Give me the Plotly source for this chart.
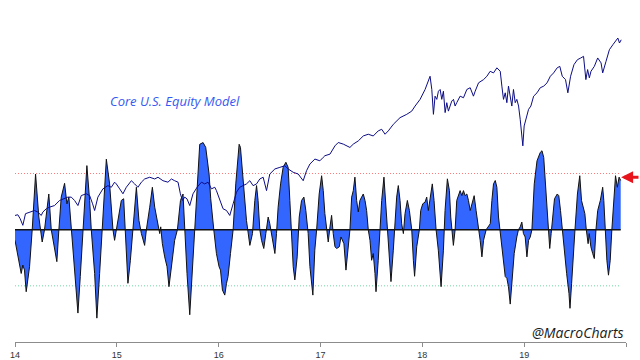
import plotly.graph_objects as go

# ---------------- data ----------------
osc_year = [
    2014.000, 2014.044, 2014.061, 2014.077, 2014.093, 2014.110, 2014.143, 2014.169, 2014.202, 2014.234,
    2014.267, 2014.290, 2014.332, 2014.356, 2014.388, 2014.411, 2014.431, 2014.454, 2014.487, 2014.510,
    2014.529, 2014.553, 2014.585, 2014.618, 2014.641, 2014.667, 2014.706, 2014.733, 2014.749, 2014.782,
    2014.804, 2014.831, 2014.857, 2014.897, 2014.929, 2014.962, 2014.978, 2015.011, 2015.044, 2015.067,
    2015.087, 2015.109, 2015.133, 2015.158, 2015.192, 2015.217, 2015.241, 2015.273, 2015.290, 2015.323,
    2015.349, 2015.372, 2015.404, 2015.421, 2015.431, 2015.447, 2015.470, 2015.493, 2015.512, 2015.536,
    2015.568, 2015.595, 2015.625, 2015.650, 2015.667, 2015.689, 2015.716, 2015.742, 2015.765, 2015.788,
    2015.814, 2015.847, 2015.873, 2015.906, 2015.922, 2015.952, 2015.978, 2016.004, 2016.018, 2016.037,
    2016.060, 2016.077, 2016.092, 2016.116, 2016.142, 2016.168, 2016.201, 2016.214, 2016.240, 2016.273,
    2016.306, 2016.332, 2016.355, 2016.372, 2016.387, 2016.404, 2016.421, 2016.443, 2016.463, 2016.486,
    2016.502, 2016.519, 2016.535, 2016.552, 2016.568, 2016.584, 2016.608, 2016.633, 2016.660, 2016.682,
    2016.699, 2016.716, 2016.732, 2016.748, 2016.771, 2016.791, 2016.814, 2016.837, 2016.856, 2016.879,
    2016.896, 2016.925, 2016.944, 2016.962, 2016.987, 2017.011, 2017.027, 2017.043, 2017.060, 2017.076,
    2017.093, 2017.109, 2017.125, 2017.142, 2017.159, 2017.185, 2017.201, 2017.214, 2017.230, 2017.250,
    2017.272, 2017.289, 2017.306, 2017.322, 2017.338, 2017.355, 2017.371, 2017.387, 2017.404, 2017.420,
    2017.437, 2017.453, 2017.469, 2017.486, 2017.502, 2017.518, 2017.535, 2017.545, 2017.567, 2017.584,
    2017.601, 2017.623, 2017.643, 2017.656, 2017.673, 2017.692, 2017.715, 2017.732, 2017.748, 2017.764,
    2017.781, 2017.797, 2017.814, 2017.830, 2017.853, 2017.873, 2017.896, 2017.912, 2017.924, 2017.945,
    2017.971, 2017.984, 2018.004, 2018.027, 2018.043, 2018.059, 2018.076, 2018.098, 2018.115, 2018.135,
    2018.157, 2018.184, 2018.207, 2018.223, 2018.246, 2018.266, 2018.279, 2018.295, 2018.305, 2018.322,
    2018.338, 2018.371, 2018.388, 2018.404, 2018.420, 2018.437, 2018.453, 2018.470, 2018.492, 2018.509,
    2018.528, 2018.551, 2018.568, 2018.585, 2018.601, 2018.627, 2018.650, 2018.667, 2018.683, 2018.699,
    2018.716, 2018.732, 2018.748, 2018.765, 2018.792, 2018.814, 2018.830, 2018.846, 2018.863, 2018.879,
    2018.902, 2018.928, 2018.944, 2018.961, 2018.977, 2018.993, 2019.010, 2019.027, 2019.043, 2019.060,
    2019.076, 2019.099, 2019.126, 2019.158, 2019.175, 2019.192, 2019.208, 2019.225, 2019.241, 2019.251,
    2019.265, 2019.281, 2019.298, 2019.325, 2019.340, 2019.357, 2019.374, 2019.391, 2019.417, 2019.440,
    2019.450, 2019.466, 2019.483, 2019.499, 2019.523, 2019.546, 2019.563, 2019.583, 2019.596, 2019.610,
    2019.628, 2019.639, 2019.655, 2019.673, 2019.689, 2019.705, 2019.722, 2019.748, 2019.771, 2019.782,
    2019.795, 2019.812, 2019.828, 2019.845, 2019.861, 2019.882, 2019.897, 2019.915, 2019.932, 2019.948,
]
osc_value = [
    -0.38, -1.31, -1.56, -1.26, -1.44, -2.21, -1.32, 0.00, 1.98, 0.45,
    -0.44, 0.00, 1.27, 0.00, -0.73, -1.14, 0.00, 1.16, 1.65, 0.92,
    1.16, 0.00, -1.32, -2.97, -1.67, 0.00, 2.28, 1.04, 0.00, -1.56,
    -3.15, -1.56, 0.00, 2.51, 1.63, 0.00, -0.38, 0.33, 1.04, 1.10,
    -0.14, -1.91, -1.09, 0.00, 1.51, 0.33, -0.14, -0.56, 0.00, 0.80,
    1.51, 0.80, 0.21, -0.14, 0.10, -0.50, -0.97, -1.32, -2.03, -1.32,
    -0.38, 0.00, 1.04, 1.27, -0.14, -1.56, -3.03, -1.32, 0.00, 1.63,
    3.04, 3.10, 2.93, 1.98, 1.10, 0.00, -0.85, -1.32, -1.44, -2.15,
    -2.33, -1.91, -1.67, -0.85, 0.00, 1.63, 3.04, 2.93, 1.63, 0.33,
    -0.56, -0.14, 1.04, 1.57, 1.04, 0.00, -0.38, -0.67, -0.14, 0.45,
    0.21, -0.14, -0.61, -0.85, -0.14, 0.80, 1.63, 2.22, 2.40, 2.22,
    1.04, -0.14, -1.32, -1.79, -0.97, 0.45, 1.04, 1.16, 0.68, -0.14,
    -1.32, -2.33, -0.73, 0.00, 1.27, 1.92, 1.39, 0.57, 0.00, -0.44,
    0.10, 0.51, -0.14, -0.61, -0.67, -0.61, -0.26, -0.38, -0.50, -1.44,
    -0.73, 0.00, 1.16, 1.39, 1.87, 1.04, 0.63, 1.04, 1.16, 1.27,
    1.04, 0.68, 0.00, -0.38, -1.09, -0.85, -1.56, -2.21, -1.09, 0.00,
    1.04, 1.87, 0.80, 0.00, -1.09, -1.85, -0.73, 0.21, 1.16, 1.57,
    1.04, 0.21, -0.14, 0.57, 1.04, 0.68, 0.00, -1.09, -1.66, -0.61,
    0.00, 0.68, 0.92, 0.98, 1.16, 0.68, 1.04, 1.63, 1.04, 0.00,
    -0.73, -2.03, -0.73, 0.68, 1.81, 1.39, 0.45, -0.26, -0.56, 0.00,
    1.04, 1.39, 1.21, 1.39, 1.21, 1.27, 1.04, 0.68, 1.04, 1.21,
    0.68, 0.10, -0.38, -0.97, -0.38, 0.00, 0.10, 0.21, 1.04, 1.63,
    1.75, 1.51, 0.45, -0.14, -1.09, -1.67, -1.73, -2.03, -2.65, -1.79,
    -0.85, -0.26, 0.00, 0.10, 0.27, -0.14, -0.26, -0.97, -0.38, -0.26,
    0.00, 1.63, 2.45, 2.75, 2.81, 2.57, 1.63, 0.45, -0.50, -0.67,
    -0.14, 0.45, 1.10, 1.27, 1.21, 0.68, 0.00, -0.73, -1.56, -2.27,
    -2.80, -1.91, -0.73, 0.00, 1.27, 1.92, 1.04, 0.68, 0.57, 0.00,
    -0.50, -0.14, -0.61, -0.85, -1.03, 0.00, 0.68, 1.04, 1.51, 1.04,
    0.00, -1.09, -1.62, -1.09, 0.00, 1.27, 1.92, 1.51, 1.87, 1.75,
]

spx_year = [
    2014.000, 2014.028, 2014.051, 2014.077, 2014.103, 2014.143, 2014.192, 2014.224, 2014.258, 2014.273,
    2014.307, 2014.339, 2014.388, 2014.438, 2014.470, 2014.519, 2014.553, 2014.585, 2014.618, 2014.651,
    2014.700, 2014.733, 2014.762, 2014.782, 2014.814, 2014.863, 2014.912, 2014.946, 2014.978, 2014.995,
    2015.028, 2015.060, 2015.093, 2015.143, 2015.175, 2015.207, 2015.241, 2015.273, 2015.323, 2015.372,
    2015.404, 2015.453, 2015.502, 2015.536, 2015.568, 2015.601, 2015.624, 2015.644, 2015.667, 2015.689,
    2015.716, 2015.748, 2015.788, 2015.831, 2015.863, 2015.896, 2015.929, 2015.962, 2015.978, 2016.011,
    2016.043, 2016.077, 2016.109, 2016.142, 2016.175, 2016.207, 2016.240, 2016.273, 2016.306, 2016.338,
    2016.372, 2016.404, 2016.437, 2016.470, 2016.502, 2016.552, 2016.601, 2016.650, 2016.683, 2016.732,
    2016.781, 2016.830, 2016.863, 2016.896, 2016.945, 2016.994, 2017.027, 2017.043, 2017.093, 2017.142,
    2017.174, 2017.224, 2017.289, 2017.322, 2017.371, 2017.420, 2017.469, 2017.518, 2017.567, 2017.601,
    2017.634, 2017.666, 2017.715, 2017.781, 2017.847, 2017.896, 2017.929, 2017.978, 2018.027, 2018.060,
    2018.076, 2018.093, 2018.109, 2018.125, 2018.142, 2018.158, 2018.175, 2018.191, 2018.207, 2018.224,
    2018.240, 2018.256, 2018.289, 2018.306, 2018.322, 2018.338, 2018.371, 2018.404, 2018.437, 2018.470,
    2018.502, 2018.519, 2018.552, 2018.601, 2018.634, 2018.666, 2018.699, 2018.732, 2018.765, 2018.781,
    2018.797, 2018.814, 2018.830, 2018.846, 2018.863, 2018.879, 2018.895, 2018.912, 2018.928, 2018.945,
    2018.961, 2018.977, 2018.987, 2019.000, 2019.020, 2019.043, 2019.066, 2019.093, 2019.126, 2019.158,
    2019.192, 2019.225, 2019.257, 2019.289, 2019.324, 2019.350, 2019.374, 2019.406, 2019.429, 2019.456,
    2019.489, 2019.523, 2019.556, 2019.583, 2019.606, 2019.623, 2019.640, 2019.656, 2019.689, 2019.722,
    2019.755, 2019.771, 2019.804, 2019.837, 2019.871, 2019.904, 2019.920, 2019.936, 2019.953,
]
spx_value = [
    1830, 1835, 1805, 1756, 1843, 1855, 1867, 1855, 1830, 1855,
    1880, 1892, 1904, 1942, 1954, 1967, 1967, 1942, 1904, 1979,
    1992, 1979, 1917, 1867, 1967, 2029, 2053, 2041, 2079, 2066,
    2029, 1992, 2041, 2090, 2066, 2041, 2079, 2103, 2116, 2103,
    2116, 2090, 2079, 2103, 2090, 2079, 1992, 1942, 1967, 1954,
    1904, 1992, 2041, 2079, 2066, 2079, 2029, 2041, 2016, 1942,
    1880, 1867, 1830, 1917, 2004, 2041, 2053, 2066, 2090, 2053,
    2066, 2103, 2116, 2016, 2140, 2178, 2190, 2202, 2178, 2153,
    2140, 2090, 2165, 2215, 2252, 2239, 2265, 2277, 2289, 2351,
    2376, 2364, 2339, 2364, 2388, 2425, 2438, 2425, 2463, 2475,
    2438, 2463, 2512, 2562, 2587, 2611, 2649, 2699, 2773, 2847,
    2872, 2773, 2587, 2723, 2699, 2760, 2773, 2699, 2760, 2600,
    2674, 2611, 2686, 2699, 2649, 2674, 2723, 2711, 2773, 2786,
    2723, 2760, 2823, 2847, 2872, 2909, 2897, 2935, 2909, 2798,
    2699, 2748, 2674, 2798, 2699, 2649, 2773, 2674, 2699, 2649,
    2550, 2451, 2351, 2500, 2550, 2624, 2649, 2723, 2748, 2786,
    2798, 2823, 2872, 2897, 2935, 2946, 2872, 2847, 2748, 2872,
    2959, 2996, 3009, 3021, 2847, 2922, 2860, 2909, 2946, 3009,
    2972, 2897, 2984, 3071, 3108, 3145, 3158, 3121, 3145,
]

year_ticks = [2014, 2015, 2016, 2017, 2018, 2019, 2020]
year_labels = ["14", "15", "16", "17", "18", "19", ""]
upper_threshold = 2.0
lower_threshold = -2.0
signal_level = 1.87
title_text = "Core U.S. Equity Model"
credit_text = "@MacroCharts"

assert len(osc_year) == len(osc_value), (len(osc_year), len(osc_value))
assert len(spx_year) == len(spx_value), (len(spx_year), len(spx_value))

# ---------------- figure ----------------
span = [osc_year[0], osc_year[-1]]
fig = go.Figure()

fig.add_trace(go.Scatter(x=span, y=[upper_threshold, upper_threshold], mode="lines",
                         line=dict(color="#ff7a7a", width=1, dash="1px,2px"), hoverinfo="skip"))
fig.add_trace(go.Scatter(x=span, y=[lower_threshold, lower_threshold], mode="lines",
                         line=dict(color="#6fd6a4", width=1, dash="1px,2px"), hoverinfo="skip"))
fig.add_trace(go.Scatter(x=osc_year, y=osc_value, mode="lines", fill="tozeroy",
                         fillcolor="#3366ff", line=dict(color="#111111", width=1)))
fig.add_trace(go.Scatter(x=span, y=[0, 0], mode="lines",
                         line=dict(color="#111111", width=1.5), hoverinfo="skip"))
fig.add_trace(go.Scatter(x=spx_year, y=spx_value, yaxis="y2", mode="lines",
                         line=dict(color="#0c0c86", width=1)))

fig.update_layout(
    width=640, height=360,
    margin=dict(l=15, r=14, t=0, b=16, pad=0),
    paper_bgcolor="white", plot_bgcolor="white",
    showlegend=False,
    xaxis=dict(range=[2014, 2020], tickvals=year_ticks, ticktext=year_labels,
               showline=True, linecolor="#8c8c8c", linewidth=1,
               ticks="outside", ticklen=4, tickcolor="#8c8c8c",
               showgrid=False, zeroline=False,
               tickfont=dict(family="Liberation Sans, Arial", size=9, color="#333333")),
    yaxis=dict(range=[-4.0, 8.177], visible=False),
    yaxis2=dict(range=[882.5, 3442.9], overlaying="y", visible=False),
    annotations=[
        dict(text="<i>" + title_text + "</i>", xref="paper", yref="paper",
             x=0.262, y=0.706, xanchor="center", yanchor="middle", showarrow=False,
             font=dict(family="Open Sans", size=13, color="#3458f2")),
        dict(text="<i>" + credit_text + "</i>", xref="paper", yref="paper",
             x=1.0, y=-0.006, xanchor="right", yanchor="bottom", showarrow=False,
             font=dict(family="Open Sans", size=14, color="#1a1a1a")),
        dict(text="", xref="paper", yref="y", x=0.992, y=signal_level,
             ax=19, ay=0, showarrow=True, arrowhead=2, arrowsize=0.8,
             arrowwidth=3, arrowcolor="#e8141c", standoff=0),
    ],
)

fig.write_html("out.html", config={"displayModeBar": False},
               post_script="document.body.style.margin='0';")
